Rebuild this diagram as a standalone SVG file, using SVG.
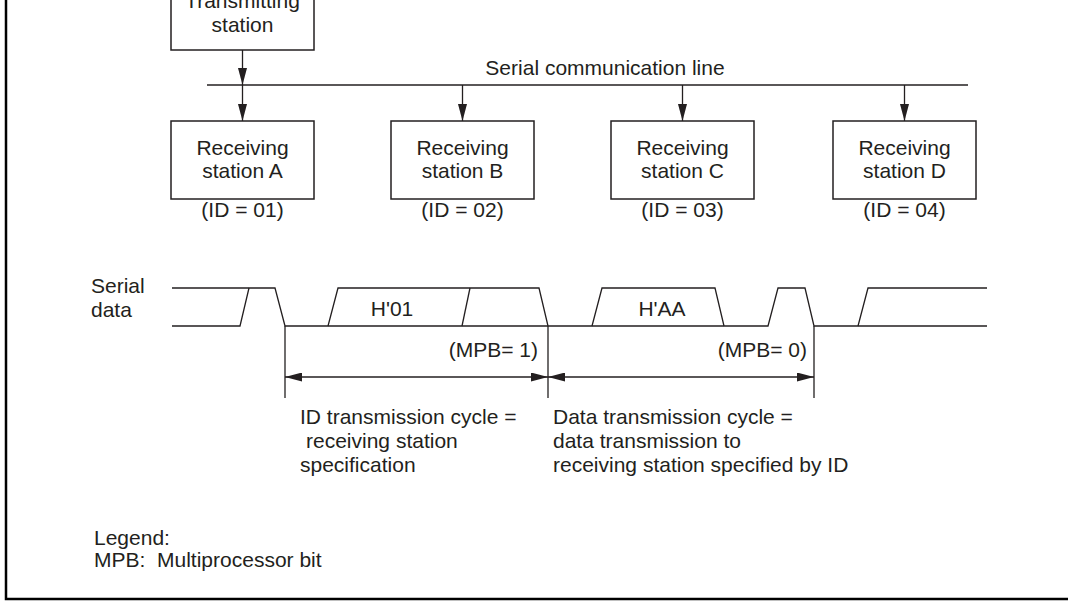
<svg xmlns="http://www.w3.org/2000/svg" width="1068" height="601" viewBox="0 0 1068 601">
<style>
text{font-family:"Liberation Sans",Arial,sans-serif;font-size:21px;fill:#231f20}
.c{text-anchor:middle}
.r{text-anchor:end}
.box{fill:#fff;stroke:#231f20;stroke-width:1.5}
.ln{fill:none;stroke:#231f20;stroke-width:1.3}
.frame{fill:none;stroke:#000;stroke-width:2.5}
</style>
<defs>
<marker id="ah" markerUnits="userSpaceOnUse" markerWidth="17" markerHeight="9" refX="17" refY="4.5" orient="auto">
<path d="M0,0 L17,4.5 L0,9 z" fill="#231f20"/>
</marker>
<marker id="ahs" markerUnits="userSpaceOnUse" markerWidth="17" markerHeight="9" refX="0" refY="4.5" orient="auto">
<path d="M17,0 L0,4.5 L17,9 z" fill="#231f20"/>
</marker>
</defs>
<path class="frame" d="M6,0 V599 H1068"/>
<g id="tx">
<rect class="box" x="171" y="-30" width="143" height="80"/>
<text class="c" x="242.5" y="8">Transmitting</text>
<text class="c" x="242.5" y="32">station</text>
</g>
<g id="rxA">
<rect class="box" x="171" y="121" width="143" height="78"/>
<text class="c" x="242.5" y="155">Receiving</text>
<text class="c" x="242.5" y="178">station A</text>
<text class="c" x="242.5" y="217">(ID = 01)</text>
</g>
<g id="rxB">
<rect class="box" x="391" y="121" width="143" height="78"/>
<text class="c" x="462.5" y="155">Receiving</text>
<text class="c" x="462.5" y="178">station B</text>
<text class="c" x="462.5" y="217">(ID = 02)</text>
</g>
<g id="rxC">
<rect class="box" x="611" y="121" width="143" height="78"/>
<text class="c" x="682.5" y="155">Receiving</text>
<text class="c" x="682.5" y="178">station C</text>
<text class="c" x="682.5" y="217">(ID = 03)</text>
</g>
<g id="rxD">
<rect class="box" x="833" y="121" width="143" height="78"/>
<text class="c" x="904.5" y="155">Receiving</text>
<text class="c" x="904.5" y="178">station D</text>
<text class="c" x="904.5" y="217">(ID = 04)</text>
</g>
<g id="connectors">
<line class="ln" x1="207" y1="85" x2="968" y2="85"/>
<line class="ln" x1="242.5" y1="50" x2="242.5" y2="85" marker-end="url(#ah)"/>
<line class="ln" x1="242.5" y1="85" x2="242.5" y2="121" marker-end="url(#ah)"/>
<line class="ln" x1="462.5" y1="85" x2="462.5" y2="121" marker-end="url(#ah)"/>
<line class="ln" x1="682.5" y1="85" x2="682.5" y2="121" marker-end="url(#ah)"/>
<line class="ln" x1="904.5" y1="85" x2="904.5" y2="121" marker-end="url(#ah)"/>
</g>
<text x="605" y="75" class="c">Serial communication line</text>
<g id="waveform">
<text x="91" y="293">Serial</text>
<text x="91" y="317">data</text>
<path class="ln" d="M172,288 H275 L285,326 H768 L778,288 H805 L814,326 H987"/>
<path class="ln" d="M172,326 H240 L249,288"/>
<path class="ln" d="M328,326 L338,288 H539 L548,326"/>
<path class="ln" d="M462,326 L470,288"/>
<path class="ln" d="M592,326 L602,288 H715 L724,326"/>
<path class="ln" d="M858,326 L868,288 H987"/>
<text class="c" x="392" y="316">H'01</text>
<text class="c" x="662" y="316">H'AA</text>
<line class="ln" x1="285" y1="326" x2="285" y2="398"/>
<line class="ln" x1="548" y1="326" x2="548" y2="398"/>
<line class="ln" x1="814" y1="326" x2="814" y2="398"/>
<line class="ln" x1="285" y1="377" x2="548" y2="377" marker-start="url(#ahs)" marker-end="url(#ah)"/>
<line class="ln" x1="548" y1="377" x2="814" y2="377" marker-start="url(#ahs)" marker-end="url(#ah)"/>
<text class="r" x="538" y="357">(MPB= 1)</text>
<text class="r" x="807" y="357">(MPB= 0)</text>
</g>
<text x="300" y="424">ID transmission cycle =</text>
<text x="306" y="448">receiving station</text>
<text x="300" y="472">specification</text>
<text x="553" y="424">Data transmission cycle =</text>
<text x="553" y="448">data transmission to</text>
<text x="553" y="472">receiving station specified by ID</text>
<text x="94" y="545">Legend:</text>
<text x="94" y="567" xml:space="preserve">MPB:  Multiprocessor bit</text>
</svg>
